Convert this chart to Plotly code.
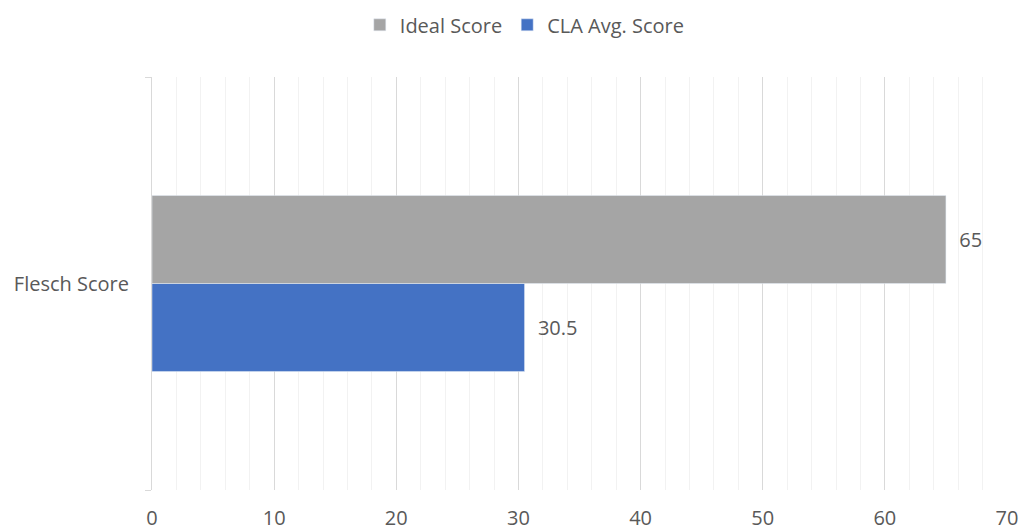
import plotly.graph_objects as go

categories = ["Flesch Score"]
ideal_score = [65]
cla_avg_score = [30.5]
x_ticks = [0, 10, 20, 30, 40, 50, 60, 70]

FONT = "Open Sans"
TXT = "#595959"
FS = 20
PAD = "\u00a0\u00a0"

fig = go.Figure()
fig.add_trace(go.Bar(
    y=categories, x=cla_avg_score, name="CLA Avg. Score", orientation="h",
    marker_color="#4472C4", text=[PAD + str(v) for v in cla_avg_score],
    textposition="outside", textfont=dict(size=FS, color=TXT, family=FONT),
    legendrank=2, cliponaxis=False,
))
fig.add_trace(go.Bar(
    y=categories, x=ideal_score, name="Ideal Score", orientation="h",
    marker_color="#A5A5A5", text=[PAD + str(v) for v in ideal_score],
    textposition="outside", textfont=dict(size=FS, color=TXT, family=FONT),
    legendrank=1, cliponaxis=False,
))

fig.update_layout(
    width=1021, height=531,
    margin=dict(l=152, r=14, t=77, b=41, autoexpand=False),
    paper_bgcolor="white", plot_bgcolor="white",
    barmode="group", bargap=0.574, bargroupgap=0,
    font=dict(family=FONT, size=FS, color=TXT),
    legend=dict(orientation="h", x=0.514, xanchor="center", xref="container",
                y=0.99, yanchor="top", yref="container",
                font=dict(size=FS, color=TXT, family=FONT),
                traceorder="normal", itemwidth=30),
    showlegend=True,
)

fig.update_xaxes(
    range=[0, 70], tickvals=x_ticks, showgrid=True, gridcolor="#d9d9d9", gridwidth=1,
    minor=dict(dtick=2, showgrid=True, gridcolor="#f2f2f2", gridwidth=1),
    zeroline=False, showline=False, ticks="", automargin=False,
    tickfont=dict(size=FS, color=TXT, family=FONT), ticklabelstandoff=14,
)
fig.update_yaxes(
    range=[-0.5, 0.5], showgrid=False, zeroline=False,
    showline=True, linecolor="#d9d9d9", linewidth=1,
    ticks="outside", tickson="boundaries", ticklen=6, tickcolor="#d9d9d9",
    automargin=False,
    tickfont=dict(size=FS, color=TXT, family=FONT), ticklabelstandoff=18,
)

fig.write_html("out.html")
